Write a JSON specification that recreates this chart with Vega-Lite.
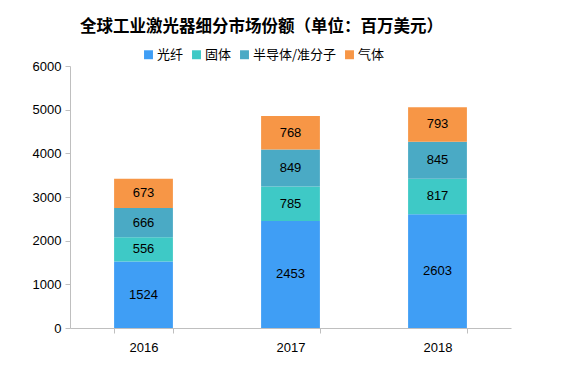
{
  "$schema": "https://vega.github.io/schema/vega-lite/v6.json",
  "width": 441,
  "height": 262,
  "autosize": {"type": "none"},
  "padding": {"left": 70, "top": 66, "right": 57, "bottom": 51},
  "background": "white",
  "config": {"view": {"stroke": null}},
  "title": {
    "text": "全球工业激光器细分市场份额（单位：百万美元）",
    "font": "Noto Sans CJK SC",
    "fontSize": 16.5,
    "fontWeight": "bold",
    "color": "#000000",
    "anchor": "middle",
    "offset": 13,
    "dx": -29
  },
  "data": {
    "values": [
      {"year": "2016", "type": "光纤", "ord": 1, "value": 1524},
      {"year": "2016", "type": "固体", "ord": 2, "value": 556},
      {"year": "2016", "type": "半导体/准分子", "ord": 3, "value": 666},
      {"year": "2016", "type": "气体", "ord": 4, "value": 673},
      {"year": "2017", "type": "光纤", "ord": 1, "value": 2453},
      {"year": "2017", "type": "固体", "ord": 2, "value": 785},
      {"year": "2017", "type": "半导体/准分子", "ord": 3, "value": 849},
      {"year": "2017", "type": "气体", "ord": 4, "value": 768},
      {"year": "2018", "type": "光纤", "ord": 1, "value": 2603},
      {"year": "2018", "type": "固体", "ord": 2, "value": 817},
      {"year": "2018", "type": "半导体/准分子", "ord": 3, "value": 845},
      {"year": "2018", "type": "气体", "ord": 4, "value": 793}
    ]
  },
  "transform": [
    {"stack": "value", "groupby": ["year"], "sort": [{"field": "ord", "order": "ascending"}], "as": ["y0", "y1"]},
    {"calculate": "(datum.y0 + datum.y1) / 2", "as": "mid"}
  ],
  "encoding": {
    "x": {
      "field": "year",
      "type": "nominal",
      "title": null,
      "scale": {"paddingInner": 0.6, "paddingOuter": 0.3},
      "axis": {
        "labelAngle": 0,
        "labelFont": "Liberation Sans",
        "labelFontSize": 13,
        "labelColor": "#000000",
        "labelPadding": 8,
        "domainColor": "#bfbfbf",
        "tickColor": "#bfbfbf",
        "tickBand": "extent",
        "tickSize": 5
      }
    }
  },
  "layer": [
    {
      "mark": {"type": "bar"},
      "encoding": {
        "y": {
          "field": "y0",
          "type": "quantitative",
          "scale": {"domain": [0, 6000]},
          "title": null,
          "axis": {
            "tickCount": 6,
            "format": "d",
            "grid": false,
            "labelFont": "Liberation Sans",
            "labelFontSize": 13,
            "labelColor": "#000000",
            "domainColor": "#bfbfbf",
            "tickColor": "#bfbfbf",
            "tickSize": 5,
            "labelPadding": 4
          }
        },
        "y2": {"field": "y1"},
        "color": {
          "field": "type",
          "type": "nominal",
          "sort": ["光纤", "固体", "半导体/准分子", "气体"],
          "scale": {
            "domain": ["光纤", "固体", "半导体/准分子", "气体"],
            "range": ["#3f9ef5", "#3ec9c6", "#4aaac5", "#f79646"]
          },
          "legend": {
            "title": null,
            "orient": "none",
            "direction": "horizontal",
            "legendX": 72,
            "legendY": -18,
            "symbolType": "square",
            "symbolSize": 80,
            "symbolStrokeWidth": 0,
            "labelFont": "Noto Sans CJK SC",
            "labelFontSize": 13,
            "labelColor": "#000000",
            "columnPadding": 6,
            "labelOffset": 2
          }
        }
      }
    },
    {
      "mark": {"type": "text", "font": "Liberation Sans", "fontSize": 13, "color": "#000000"},
      "encoding": {
        "y": {"field": "mid", "type": "quantitative"},
        "text": {"field": "value", "type": "quantitative"}
      }
    }
  ]
}
